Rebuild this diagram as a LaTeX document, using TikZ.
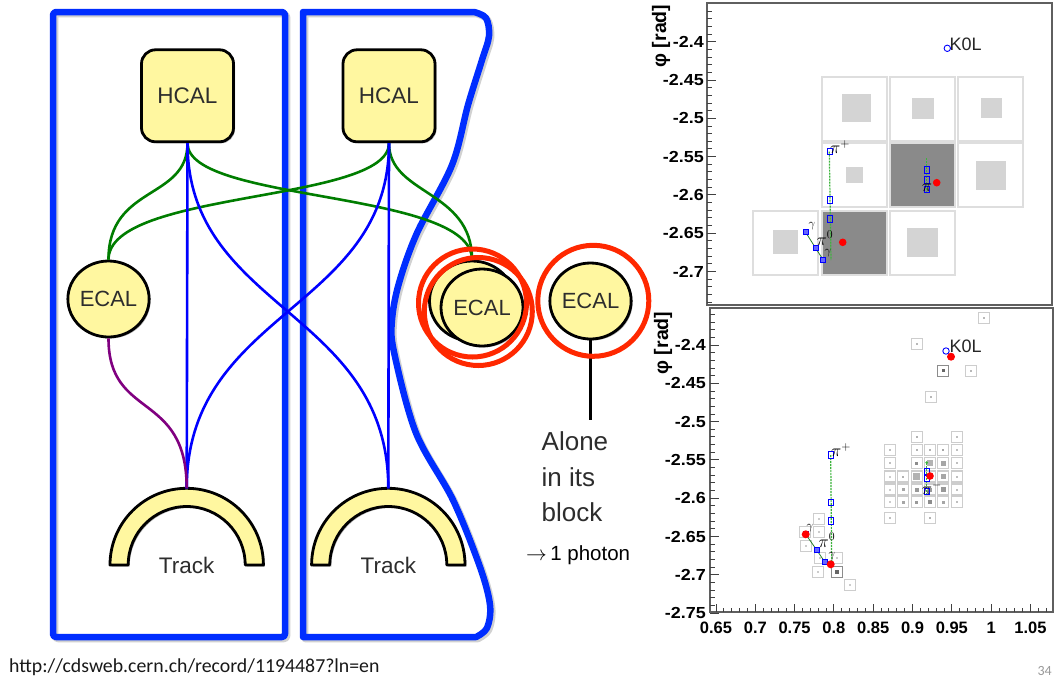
\documentclass[tikz,border=0pt]{standalone}
\usepackage{fontspec}
\setmainfont{Liberation Sans}
\newfontfamily\urlfont{Carlito}
\usetikzlibrary{shapes.geometric,shadows}

\definecolor{padyellow}{RGB}{255,247,160}
\definecolor{frameblue}{RGB}{0,45,255}
\definecolor{linkblue}{RGB}{0,0,255}
\definecolor{linkgreen}{RGB}{0,125,0}
\definecolor{linkpurple}{RGB}{128,0,128}
\definecolor{ringred}{RGB}{255,40,0}
\definecolor{labelgray}{RGB}{45,45,45}
\definecolor{axisgray}{RGB}{95,95,95}
\definecolor{cellline}{RGB}{222,222,222}
\definecolor{celldark}{RGB}{138,138,138}
\definecolor{cellinner}{RGB}{212,212,212}
\definecolor{hitline}{RGB}{205,205,205}
\definecolor{trackgreen}{RGB}{60,180,60}

\tikzset{
  blockframe/.style={draw=frameblue, line width=6.5pt, line join=round},
  blockshadow/.style={draw=black!18, line width=6.5pt, line join=round},
  padshadow/.style={drop shadow={shadow xshift=1.5pt, shadow yshift=-1.5pt, opacity=0.3, fill=black}},
  hcalbox/.style={rectangle, draw=black, line width=2.8pt, fill=padyellow, rounded corners=14pt,
    minimum width=92pt, minimum height=92pt, inner sep=0pt, text=labelgray,
    font=\fontsize{22.5}{22.5}\selectfont, padshadow},
  ecalbox/.style={ellipse, draw=black, line width=2.8pt, fill=padyellow, minimum width=81pt,
    minimum height=76pt, inner sep=0pt, text=labelgray, font=\fontsize{22}{22}\selectfont, padshadow},
  trackpad/.style={draw=black, line width=2.8pt, fill=padyellow, line join=round, padshadow},
  tracklabel/.style={anchor=base, inner sep=0pt, text=labelgray, font=\fontsize{22.5}{22.5}\selectfont},
  glink/.style={draw=linkgreen, line width=2.6pt},
  blink/.style={draw=linkblue, line width=2.6pt},
  plink/.style={draw=linkpurple, line width=2.6pt},
  ring/.style={draw=ringred, line width=5pt},
  notetext/.style={inner sep=0pt, text=labelgray},
  % plot styles
  plotframe/.style={draw=axisgray, line width=1.3pt},
  tickmark/.style={draw=black!75, line width=0.9pt},
  ylab/.style={anchor=east, inner sep=0pt, font=\bfseries\fontsize{16}{16}\selectfont, xscale=1.12},
  xlab/.style={anchor=center, inner sep=0pt, font=\bfseries\fontsize{16.5}{16.5}\selectfont},
  axistitle/.style={rotate=90, inner sep=0pt, font=\bfseries\fontsize{19.5}{19.5}\selectfont},
  cellframe/.style={draw=cellline, line width=1.4pt, fill=white},
  hitbox/.style={draw=hitline, line width=1.1pt, fill=white},
  bmark/.style={draw=linkblue, line width=0.9pt},
  reddot/.style={fill=red},
  trkline/.style={draw=trackgreen, line width=1.2pt, dash pattern=on 2pt off 1pt},
  partlabel/.style={inner sep=0pt, font=\fontsize{18}{18}\selectfont},
  smallgamma/.style={inner sep=0pt, font=\fontsize{12}{12}\selectfont},
  particlename/.style={anchor=west, inner sep=0pt, text=black!85, font=\fontsize{18}{18}\selectfont},
}

\begin{document}
\begin{tikzpicture}[x=1pt, y=-1pt]
\useasboundingbox (0,0) rectangle (1064,678);
\fill[white] (0,0) rectangle (1064,678);

% ---------------- two linking blocks ----------------
\begin{scope}[shift={(2,2)}]
  \draw[blockshadow, rounded corners=3pt] (53,12) rectangle (285,637);
  \draw[blockshadow] (303,637) -- (303,12) -- plot[smooth, tension=0.55] coordinates {
    (474,12) (486,18) (489,36) (482,60) (468,105) (452,165) (417,233) (399,283) (392,320)
    (394,352) (416,433) (453,500) (480,567) (490,605) (487,628) (476,637)} -- cycle;
\end{scope}
\draw[blockframe, rounded corners=3pt] (53,12) rectangle (285,637);
\draw[blockframe] (303,637) -- (303,12) -- plot[smooth, tension=0.55] coordinates {
    (474,12) (486,18) (489,36) (482,60) (468,105) (452,165) (417,233) (399,283) (392,320)
    (394,352) (416,433) (453,500) (480,567) (490,605) (487,628) (476,637)} -- cycle;

% ---------------- elements ----------------
\node[hcalbox] (hcalL) at (187.5,95.8) {HCAL};
\node[hcalbox] (hcalR) at (389,95.8) {HCAL};
\node[ecalbox] (ecalL) at (108.5,299) {ECAL};
\node[ecalbox, minimum width=85pt, minimum height=80pt] (ecalB) at (472,301) {};
\node[ecalbox, minimum width=82pt, minimum height=77pt] (ecalF) at (482,307.5) {ECAL};
\node[ecalbox] (ecalA) at (590.5,301) {ECAL};

% track pads (half rings)
\draw[trackpad] (110,565) arc[start angle=180, end angle=0, radius=76.7pt]
  -- (245.2,565) arc[start angle=0, end angle=180, radius=58.5pt] -- cycle;
\draw[trackpad] (311.6,565) arc[start angle=180, end angle=0, radius=76.7pt]
  -- (446.8,565) arc[start angle=0, end angle=180, radius=58.5pt] -- cycle;
\coordinate (trackLtop) at (186.7,488.3);
\coordinate (trackRtop) at (388.3,488.3);
\node[tracklabel] (trackLname) at (186.7,573) {Track};
\node[tracklabel] (trackRname) at (388.3,573) {Track};

% ---------------- links ----------------
\draw[glink] (hcalL.south) .. controls +(0,57) and +(0,-75) .. (ecalL.north);
\draw[glink] (hcalL.south) .. controls +(0,60) and +(0,-70) .. (ecalB.north);
\draw[glink] (hcalR.south) .. controls +(0,60) and +(0,-70) .. (ecalL.north);
\draw[glink] (hcalR.south) .. controls +(0,52) and +(0,-70) .. (ecalB.north);

\draw[blink] (hcalL.south) -- (trackLtop);
\draw[blink] (hcalR.south) -- (trackRtop);
\draw[blink] (hcalL.south) .. controls +(0,167) and +(0,-178) .. (trackRtop);
\draw[blink] (hcalR.south) .. controls +(0,167) and +(0,-178) .. (trackLtop);

\draw[plink] (ecalL.south) .. controls +(0,82) and +(0,-98) .. (trackLtop);

% isolated element and its note
\coordinate (aloneTail) at (590.5,420);
\draw[line width=3pt] (ecalA.south) -- (aloneTail);
\node[notetext, anchor=north west, align=left, font=\fontsize{26}{35.5}\selectfont] (aloneNote)
  at (541.5,431.5) {Alone\\in its\\block};
\node[notetext, anchor=west, text=black, font=\fontsize{20.5}{20.5}\selectfont] (photonNote)
  at (526,555) {$\rightarrow$\,1 photon};

% circled elements
\draw[ring] (472.5,303) circle[radius=54pt];
\draw[ring] (478.3,311.5) circle[radius=54pt];
\draw[ring] (593.3,300.8) circle[radius=55.5pt];

% ---------------- footer ----------------
\node[anchor=base west, inner sep=0pt, text=black!90, font=\urlfont\fontsize{19.8}{19.8}\selectfont] (srcurl)
  at (9,672) {http://cdsweb.cern.ch/record/1194487?ln=en};
\node[anchor=base east, inner sep=0pt, text=black!40, font=\urlfont\fontsize{14}{14}\selectfont] (pagenum)
  at (1052,675) {34};

% ================= upper event display =================
\foreach \x/\y in {822/77, 890/77, 958/77, 822/143, 958/143, 753/211, 890/211}
  \draw[cellframe] (\x,\y) rectangle ++(65,64);
\foreach \x/\y in {890/143, 822/211}
  \draw[cellframe, fill=celldark] (\x,\y) rectangle ++(65,64);
\fill[cellinner] (841.7,94) rectangle (870.7,121.7);
\fill[cellinner] (911.7,97.7) rectangle (934,119);
\fill[cellinner] (980.7,98.3) rectangle (1001.7,118.3);
\fill[cellinner] (846,166.7) rectangle (862.7,183.3);
\fill[cellinner] (976,160.7) rectangle (1006,190);
\fill[cellinner] (772.7,230) rectangle (797.7,254);
\fill[cellinner] (907.3,227.7) rectangle (937.7,256.7);

\draw[plotframe] (707,3) rectangle (1052,305);
\foreach \k in {-4,...,34} \draw[tickmark] (707,{41.7+\k*7.66}) -- ++(5,0);
\foreach \k in {0,5,...,30} \draw[tickmark] (707,{41.7+\k*7.66}) -- ++(9,0);
\foreach \k/\t in {0/-2.4,5/-2.45,10/-2.5,15/-2.55,20/-2.6,25/-2.65,30/-2.7}
  \node[ylab] at (704,{41.7+\k*7.66}) {\t};
\node[axistitle] (phiTop) at (661,36) {φ [rad]};

% K0L
\draw[bmark] (947.3,48.3) circle[radius=3.2pt];
\node[particlename] (k0lTop) at (949.5,44) {K0L};
% charged pion on the left
\draw[trkline] (829.3,151.7) -- (831,260);
\foreach \y in {151.7,200,219} \draw[bmark] (830,\y) ++(-2.6,-3.2) rectangle ++(5.2,6.4);
\node[partlabel] (piplusTop) at (840,147) {$\pi^{+}$};
% neutral pion and its photons
\draw[draw=trackgreen!70!black, line width=0.8pt] (805.7,232.3) -- (815.7,248.3) -- (823.3,260);
\foreach \x/\y in {805.7/232.3, 815.7/248.3, 823.3/260}
  \draw[bmark, fill=linkblue!60] (\x,\y) ++(-2.4,-2.4) rectangle ++(4.8,4.8);
\node[partlabel] (pizeroTop) at (825,238) {$\pi^{0}$};
\node[smallgamma] (gammaTopA) at (812,226) {$\gamma$};
\node[smallgamma] (gammaTopB) at (828,253) {$\gamma$};
\fill[reddot] (842.7,242.3) circle[radius=3.8pt];
% charged pion on the right
\draw[trkline] (926.7,158) -- (926.7,192);
\foreach \y in {170,180,189.3} \draw[bmark] (926.7,\y) ++(-2.6,-3.2) rectangle ++(5.2,6.4);
\node[partlabel] (piminusTop) at (932,185) {$\pi^{-}$};
\fill[reddot] (936.7,182.7) circle[radius=3.8pt];

% ================= lower event display =================
% isolated hits
\foreach \x/\y in {984/318, 916.7/344.3, 970.7/370.7, 930.7/397.3}
  { \draw[hitbox] (\x,\y) ++(-5.5,-5.5) rectangle ++(11,11);
    \fill[black!28] (\x,\y) ++(-1,-1) rectangle ++(2,2); }
\draw[hitbox, draw=black!45] (943.3,370.7) ++(-5.5,-5.5) rectangle ++(11,11);
\fill[black!60] (943.3,370.7) ++(-1.6,-1.6) rectangle ++(3.2,3.2);
% cluster of hits
\foreach \x/\y/\h/\g in {
  916.7/437/1/30, 956.7/437/1/25,
  890/450/1/25, 916.7/450/1/30, 930/450/1/30, 943.3/450/1/35, 956.7/450/1/25,
  890/463/1/25, 916.7/463/1.5/45, 930/463/3/30, 943.3/463/2.5/35, 956.7/463/1/25,
  890/476.5/1/20, 903.3/476.5/1/30, 916.7/476.5/3.5/30, 930/476.5/2/30, 943.3/476.5/2.5/35, 956.7/476.5/1/25,
  890/489.5/1/20, 903.3/489.5/1.5/35, 916.7/489.5/2/40, 930/489.5/2/40, 943.3/489.5/2.5/40, 956.7/489.5/1/25,
  890/502/1/20, 903.3/502/1.5/35, 916.7/502/1.5/40, 930/502/2/45, 943.3/502/1.5/35, 956.7/502/1/25,
  890/518/1/25, 930/518/1/30,
  819.3/519.3/1/20, 805/531.7/1/20, 819.3/531.7/1/20, 805.7/545.7/1/20, 820/558.3/1/20,
  836.7/558.3/1/20, 818.3/571.7/1/20, 850/585/1/20}
  { \draw[hitbox] (\x,\y) ++(-5.5,-5.5) rectangle ++(11,11);
    \fill[black!\g] (\x,\y) ++(-\h,-\h) rectangle ++(2*\h,2*\h); }
\draw[hitbox, draw=black!45] (836.7,571.7) ++(-5.5,-5.5) rectangle ++(11,11);
\fill[black!60] (836.7,571.7) ++(-2,-2) rectangle ++(4,4);

\draw[plotframe] (710,308) rectangle (1053,612);
\foreach \k in {-4,...,35} \draw[tickmark] (710,{345+\k*7.66}) -- ++(5,0);
\foreach \k in {0,5,...,35} \draw[tickmark] (710,{345+\k*7.66}) -- ++(9,0);
\foreach \k/\t in {0/-2.4,5/-2.45,10/-2.5,15/-2.55,20/-2.6,25/-2.65,30/-2.7,35/-2.75}
  \node[ylab] at (706,{345+\k*7.66}) {\t};
\foreach \k in {0,...,42} \draw[tickmark] ({716+\k*7.86},612) -- ++(0,-4);
\foreach \k in {0,5,...,40} \draw[tickmark] ({716+\k*7.86},612) -- ++(0,-8);
\foreach \k/\t in {0/0.65,5/0.7,10/0.75,15/0.8,20/0.85,25/0.9,30/0.95,35/1,40/1.05}
  \node[xlab] at ({716+\k*7.86},628) {\t};
\node[axistitle] (phiBottom) at (663,343) {φ [rad]};

% K0L
\draw[bmark] (946,351) circle[radius=3.2pt];
\fill[reddot] (951,356.7) circle[radius=4pt];
\node[particlename] (k0lBottom) at (949.5,346) {K0L};
% charged pion on the left
\draw[trkline] (830.7,455) -- (831.7,563);
\foreach \y in {455,502.3,521} \draw[bmark] (830.7,\y) ++(-2.6,-3.2) rectangle ++(5.2,6.4);
\node[partlabel] (piplusBottom) at (841,450) {$\pi^{+}$};
% neutral pion and its photons
\draw[draw=trackgreen!70!black, line width=0.8pt] (805.7,534.3) -- (816.7,550) -- (825,562.3);
\foreach \x/\y in {805.7/534.3, 816.7/550, 825/562.3}
  \draw[bmark, fill=linkblue!60] (\x,\y) ++(-2.4,-2.4) rectangle ++(4.8,4.8);
\fill[reddot] (805.7,534.3) circle[radius=4pt];
\fill[reddot] (830.7,564.3) circle[radius=4pt];
\node[partlabel] (pizeroBottom) at (827,540) {$\pi^{0}$};
\node[smallgamma] (gammaBotA) at (810,528) {$\gamma$};
\node[smallgamma] (gammaBotB) at (832,556) {$\gamma$};
% charged pion on the right
\fill[trackgreen] (926.7,462.7) circle[radius=1.5pt];
\draw[trkline] (926.7,462.7) -- (926.7,494);
\foreach \y in {471.7,478.3,491.7} \draw[bmark] (926.7,\y) ++(-2.6,-3.2) rectangle ++(5.2,6.4);
\fill[reddot] (930,476) circle[radius=3.8pt];
\node[partlabel] (piminusBottom) at (932,488) {$\pi^{-}$};
\end{tikzpicture}
\end{document}
